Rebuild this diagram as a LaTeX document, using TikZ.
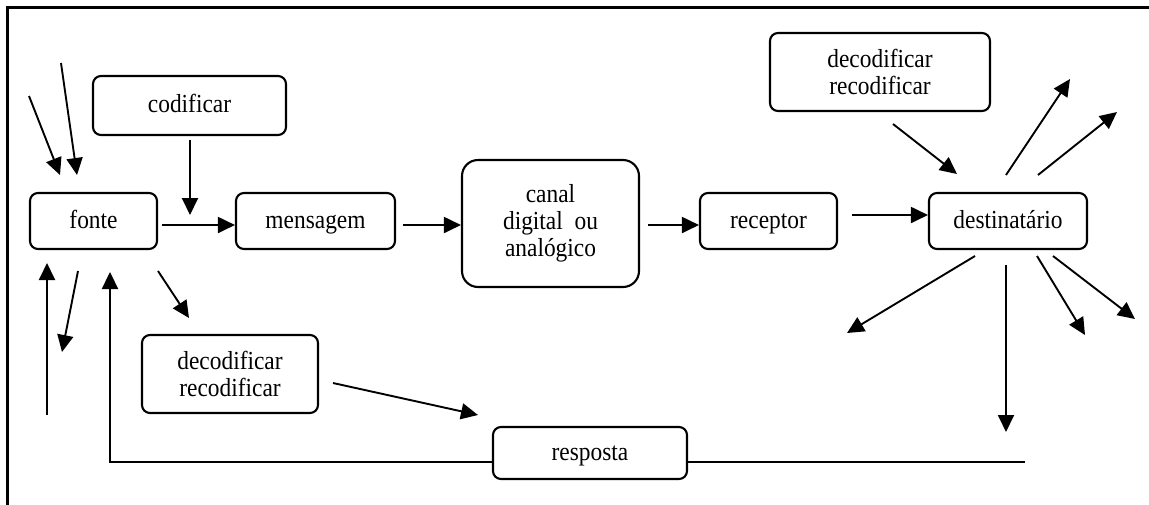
\documentclass[tikz,border=0pt]{standalone}
\usepackage{fontspec}
\setmainfont{Liberation Serif}[FakeStretch=0.9]
\usetikzlibrary{arrows.meta}

\tikzset{
  box/.style={draw, line width=2.1pt, rounded corners=8pt, inner sep=0pt,
              align=center, font=\fontsize{26}{27}\selectfont},
  oneline/.style={text height=19pt, text depth=5pt},
  tip/.style={-{Triangle[length=17pt,width=16pt]}},
  flow/.style={line width=1.9pt, tip},
  plain/.style={line width=2.3pt},
}

\begin{document}
\begin{tikzpicture}[x=1pt, y=-1pt]
  \useasboundingbox (0,0) rectangle (1149,504);
  \clip (0,0) rectangle (1149,504);

  % outer frame (only its top and left sides fall inside the page)
  \draw[line width=3pt] (7,520) -- (7,7) -- (1170,7);

  % boxes
  \node[box, oneline, minimum width=193pt, minimum height=59pt] (cod)  at (189.5,105.5) {codificar};
  \node[box, oneline, minimum width=127pt, minimum height=56pt] (fonte) at (93.5,221) {fonte};
  \node[box, oneline, minimum width=159pt, minimum height=56pt] (msg)  at (315.5,221) {mensagem};
  \node[box, minimum width=177pt, minimum height=127pt, rounded corners=16pt] (canal) at (550.5,223.5)
       {canal\\digital\ \ ou\\analógico};
  \node[box, oneline, minimum width=137pt, minimum height=56pt] (rec)  at (768.5,221) {receptor};
  \node[box, oneline, minimum width=158pt, minimum height=56pt] (dest) at (1008,221) {destinatário};
  \node[box, minimum width=220pt, minimum height=78pt] (decA) at (880,72) {decodificar\\recodificar};
  \node[box, minimum width=176pt, minimum height=78pt] (decB) at (230,374) {decodificar\\recodificar};
  \node[box, oneline, minimum width=194pt, minimum height=52pt] (resp) at (590,453) {resposta};

  % free ends of the arrows
  \coordinate (inA0) at (29,96);   \coordinate (inA1) at (60,175);
  \coordinate (inB0) at (61,63);   \coordinate (inB1) at (77,175);
  \coordinate (cod0) at (190,140); \coordinate (cod1) at (190,215);
  \coordinate (fo0)  at (162,225);
  \coordinate (ms0)  at (403,225);
  \coordinate (ca0)  at (648,225);
  \coordinate (re0)  at (852,215);
  \coordinate (dA0)  at (893,124); \coordinate (dA1) at (957,174);
  \coordinate (up0)  at (1006,175); \coordinate (up1) at (1070,79);
  \coordinate (ur0)  at (1038,175); \coordinate (ur1) at (1117,112);
  \coordinate (dl0)  at (975,256);  \coordinate (dl1) at (847,333);
  \coordinate (dr0)  at (1037,256); \coordinate (dr1) at (1085,335);
  \coordinate (de0)  at (1053,256); \coordinate (de1) at (1135,319);
  \coordinate (dv0)  at (1006,265); \coordinate (dv1) at (1006,432);
  \coordinate (ret0) at (1025,462);
  \coordinate (ret1) at (110,462);  \coordinate (ret2) at (110,272);
  \coordinate (lu0)  at (47,415);   \coordinate (lu1) at (47,263);
  \coordinate (ld0)  at (78,271);   \coordinate (ld1) at (62,352);
  \coordinate (fd0)  at (158,271);  \coordinate (fd1) at (189,318);
  \coordinate (bd0)  at (333,383);  \coordinate (bd1) at (478,415);

  % arrows around the source
  \draw[flow] (inA0) -- (inA1);
  \draw[flow] (inB0) -- (inB1);
  \draw[flow] (cod0) -- (cod1);
  \draw[flow] (lu0) -- (lu1);
  \draw[flow] (ld0) -- (ld1);
  \draw[flow] (fd0) -- (fd1);
  \draw[flow] (bd0) -- (bd1);

  % main chain
  \draw[flow] (fo0) -- (msg.west |- fo0);
  \draw[flow] (ms0) -- (canal.west |- ms0);
  \draw[flow] (ca0) -- (rec.west |- ca0);
  \draw[flow] (re0) -- (dest.west |- re0);

  % around the receiver
  \draw[flow] (dA0) -- (dA1);
  \draw[flow] (up0) -- (up1);
  \draw[flow] (ur0) -- (ur1);
  \draw[flow] (dl0) -- (dl1);
  \draw[flow] (dr0) -- (dr1);
  \draw[flow] (de0) -- (de1);
  \draw[flow] (dv0) -- (dv1);

  % feedback line through the answer box
  \draw[plain] (ret0) -- (resp.east |- ret0);
  \draw[plain, tip] (resp.west |- ret1) -- (ret1) -- (ret2);
\end{tikzpicture}
\end{document}
